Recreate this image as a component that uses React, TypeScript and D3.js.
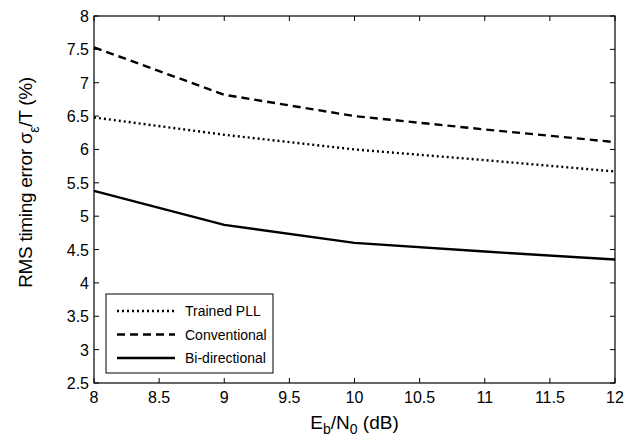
import React, { useEffect, useRef } from "react";
import * as d3 from "d3";

// Eb/N0 (dB)
const ebn0 = [8, 9, 10, 11, 12];
// RMS timing error (%)
const trainedPLL = [6.48, 6.22, 6.0, 5.84, 5.67];
const conventional = [7.53, 6.82, 6.5, 6.3, 6.11];
const biDirectional = [5.38, 4.87, 4.6, 4.47, 4.35];

const xTicks = [8, 8.5, 9, 9.5, 10, 10.5, 11, 11.5, 12];
const yTicks = [2.5, 3, 3.5, 4, 4.5, 5, 5.5, 6, 6.5, 7, 7.5, 8];

const seriesList = [
	{ name: "Trained PLL", values: trainedPLL, dash: "2,3" },
	{ name: "Conventional", values: conventional, dash: "8,5" },
	{ name: "Bi-directional", values: biDirectional, dash: null },
];

const App = () => {
	const svgRef = useRef<SVGSVGElement>(null);

	useEffect(() => {
		const W = 634;
		const H = 439;
		const margin = { top: 16, right: 19, bottom: 56, left: 94 };
		const width = W - margin.left - margin.right;
		const height = H - margin.top - margin.bottom;

		const root = d3.select(svgRef.current);
		root.selectAll("*").remove();

		const svg = root
			.append("g")
			.attr("transform", `translate(${margin.left},${margin.top})`);

		const x = d3.scaleLinear().domain([8, 12]).range([0, width]);
		const y = d3.scaleLinear().domain([2.5, 8]).range([height, 0]);

		const font = "Liberation Sans, Arial, Helvetica, sans-serif";

		// ticks (inward, all four sides like matlab)
		const tick = 5;
		const tickG = svg.append("g").attr("stroke", "#000").attr("stroke-width", 1);
		xTicks.forEach((t) => {
			tickG.append("line").attr("x1", x(t)).attr("x2", x(t)).attr("y1", height).attr("y2", height - tick);
			tickG.append("line").attr("x1", x(t)).attr("x2", x(t)).attr("y1", 0).attr("y2", tick);
		});
		yTicks.forEach((t) => {
			tickG.append("line").attr("x1", 0).attr("x2", tick).attr("y1", y(t)).attr("y2", y(t));
			tickG.append("line").attr("x1", width).attr("x2", width - tick).attr("y1", y(t)).attr("y2", y(t));
		});

		// tick labels
		svg.selectAll(".xl")
			.data(xTicks)
			.join("text")
			.attr("x", (d) => x(d))
			.attr("y", height + 20)
			.attr("text-anchor", "middle")
			.style("font-family", font)
			.style("font-size", "16px")
			.text((d) => d);

		svg.selectAll(".yl")
			.data(yTicks)
			.join("text")
			.attr("x", -5)
			.attr("y", (d) => y(d) + 6)
			.attr("text-anchor", "end")
			.style("font-family", font)
			.style("font-size", "16px")
			.text((d) => d);

		// lines
		const line = d3
			.line<number>()
			.x((d, i) => x(ebn0[i]))
			.y((d) => y(d));

		seriesList.forEach((s) => {
			svg.append("path")
				.datum(s.values)
				.attr("d", line)
				.attr("fill", "none")
				.attr("stroke", "#000")
				.attr("stroke-width", 2.4)
				.attr("stroke-dasharray", s.dash);
		});

		// box
		svg.append("rect")
			.attr("width", width)
			.attr("height", height)
			.attr("fill", "none")
			.attr("stroke", "#000")
			.attr("stroke-width", 1.2);

		// legend
		const lg = svg.append("g").attr("transform", `translate(${12},${height - 89})`);
		lg.append("rect")
			.attr("width", 167)
			.attr("height", 79)
			.attr("fill", "#fff")
			.attr("stroke", "#000")
			.attr("stroke-width", 1);
		seriesList.forEach((s, i) => {
			const ly = 17 + i * 23.5;
			lg.append("line")
				.attr("x1", 11)
				.attr("x2", 69)
				.attr("y1", ly)
				.attr("y2", ly)
				.attr("stroke", "#000")
				.attr("stroke-width", 2.4)
				.attr("stroke-dasharray", s.dash);
			lg.append("text")
				.attr("x", 79)
				.attr("y", ly + 5)
				.style("font-family", font)
				.style("font-size", "14px")
				.text(s.name);
		});

		// x label
		const xl = svg.append("text")
			.attr("x", width / 2)
			.attr("y", height + 46)
			.attr("text-anchor", "middle")
			.style("font-family", font)
			.style("font-size", "19px");
		xl.append("tspan").text("E");
		xl.append("tspan").attr("dy", 5).style("font-size", "14px").text("b");
		xl.append("tspan").attr("dy", -5).text("/N");
		xl.append("tspan").attr("dy", 5).style("font-size", "14px").text("0");
		xl.append("tspan").attr("dy", -5).text(" (dB)");

		// y label
		const yl = svg.append("text")
			.attr("transform", `translate(${-62},${height / 2 - 17}) rotate(-90)`)
			.attr("text-anchor", "middle")
			.style("font-family", font)
			.style("font-size", "19px")
			.style("letter-spacing", "-0.3px");
		yl.append("tspan").text("RMS timing error σ");
		yl.append("tspan").attr("dy", 7).style("font-size", "14px").text("ε");
		yl.append("tspan").attr("dy", -7).text("/T (%)");
	}, []);

	return <svg ref={svgRef} width={634} height={439} style={{ display: "block", position: "absolute", left: 0, top: 0 }}></svg>;
};

export default App;
